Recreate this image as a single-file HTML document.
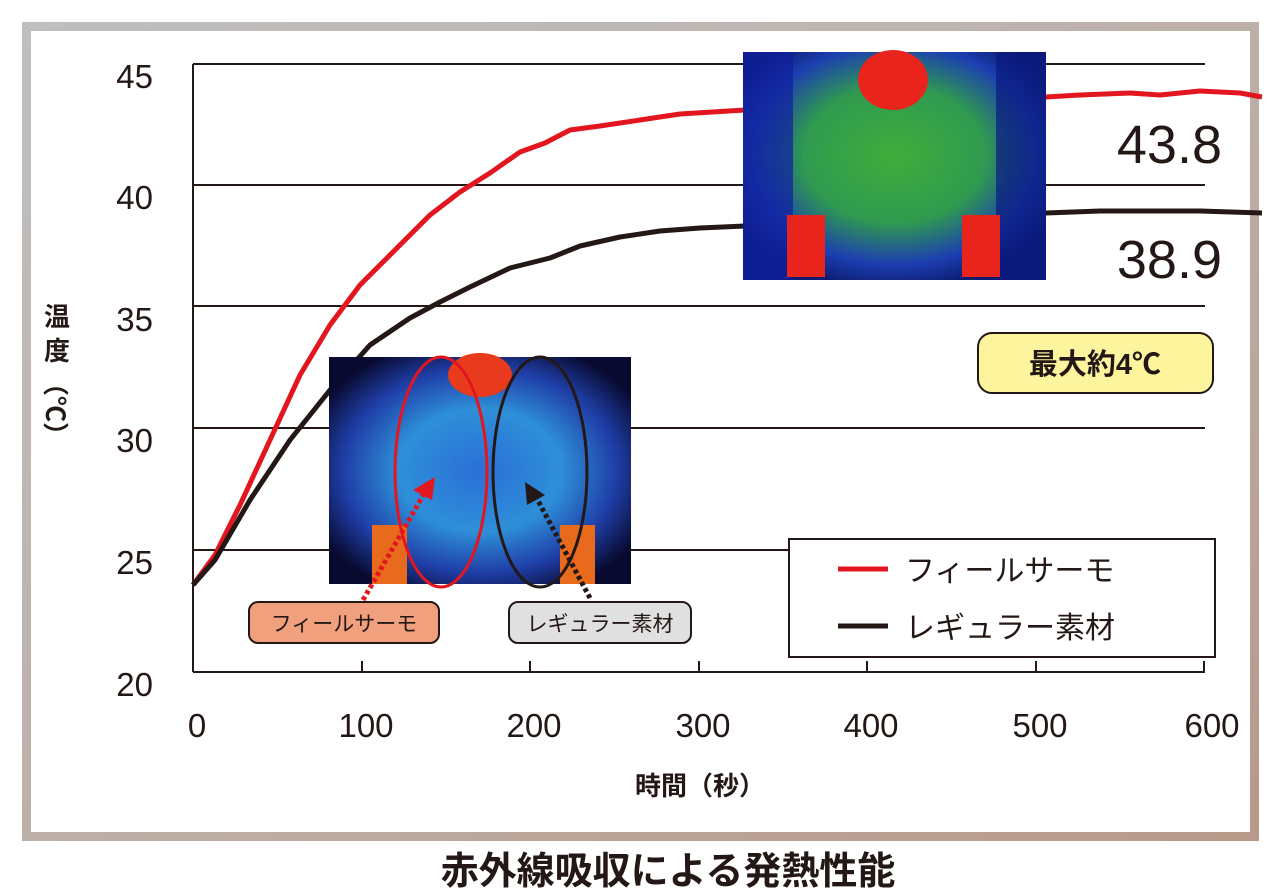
<!DOCTYPE html>
<html><head><meta charset="utf-8"><style>
html,body{margin:0;padding:0;background:#fff}
svg{display:block}
text{font-family:"Liberation Sans","Noto Sans CJK JP",sans-serif;fill:#231815}
</style></head><body>
<svg width="1288" height="892" viewBox="0 0 1288 892" xmlns="http://www.w3.org/2000/svg">
<defs>
<linearGradient id="fr" x1="0" y1="0" x2="1" y2="1">
<stop offset="0" stop-color="#bfbfbf"/><stop offset="0.5" stop-color="#bdb0a8"/><stop offset="1" stop-color="#b8998a"/>
</linearGradient>
<radialGradient id="th1" cx="0.5" cy="0.45" r="0.6">
<stop offset="0" stop-color="#3fae3a"/><stop offset="0.5" stop-color="#2f9a50"/><stop offset="0.8" stop-color="#1c3fb0"/><stop offset="1" stop-color="#0c1a70"/>
</radialGradient>
<radialGradient id="th2" cx="0.5" cy="0.5" r="0.6">
<stop offset="0" stop-color="#2a6fd8"/><stop offset="0.45" stop-color="#2e8fd8"/><stop offset="0.75" stop-color="#1f3fa8"/><stop offset="1" stop-color="#080a30"/>
</radialGradient>
</defs>
<rect x="26.5" y="26.5" width="1228" height="810" fill="none" stroke="url(#fr)" stroke-width="9"/>
<g stroke="#231815" stroke-width="2">
<line x1="193" y1="64" x2="1205" y2="64"/>
<line x1="193" y1="185" x2="1205" y2="185"/>
<line x1="193" y1="306" x2="1205" y2="306"/>
<line x1="193" y1="428" x2="1205" y2="428"/>
<line x1="193" y1="550" x2="1205" y2="550"/>
<line x1="193" y1="672" x2="1205" y2="672"/>
<line x1="193" y1="64" x2="193" y2="672"/>
<line x1="362" y1="672" x2="362" y2="661"/>
<line x1="530" y1="672" x2="530" y2="661"/>
<line x1="699" y1="672" x2="699" y2="661"/>
<line x1="867" y1="672" x2="867" y2="661"/>
<line x1="1036" y1="672" x2="1036" y2="661"/>
<line x1="1204" y1="672" x2="1204" y2="661"/>
</g>
<g font-size="33" text-anchor="end">
<text x="153" y="88">45</text><text x="153" y="209">40</text><text x="153" y="331">35</text>
<text x="153" y="452">30</text><text x="153" y="574">25</text><text x="153" y="696">20</text>
</g>
<g font-size="33" text-anchor="middle">
<text x="197" y="737">0</text><text x="366" y="737">100</text><text x="534" y="737">200</text>
<text x="703" y="737">300</text><text x="871" y="737">400</text><text x="1040" y="737">500</text><text x="1212" y="737">600</text>
</g>
<text x="700" y="795" font-size="26" font-weight="bold" text-anchor="middle">時間（秒）</text>
<text x="57" y="326" font-size="26" font-weight="bold" text-anchor="middle">温</text>
<text x="57" y="360" font-size="26" font-weight="bold" text-anchor="middle">度</text>
<text font-size="26" font-weight="bold" transform="translate(46,370) rotate(90)">（℃）</text>
<path d="M193,585 L215,555 L240,505 L270,440 L300,375 L330,325 L360,285 L400,245 L430,215 L460,192 L490,173 L520,152 L545,143 L570,130 L600,126 L640,120 L680,114 L745,110 L1046,97 L1080,95 L1130,93 L1160,95 L1200,91 L1240,93 L1262,97" fill="none" stroke="#e3161f" stroke-width="5" stroke-linejoin="round"/>
<path d="M193,585 L215,560 L250,500 L290,440 L330,390 L370,345 L410,318 L440,302 L470,287 L510,268 L550,258 L580,246 L620,237 L660,231 L700,228 L745,226 L1046,213 L1100,211 L1200,211 L1262,213" fill="none" stroke="#231815" stroke-width="5" stroke-linejoin="round"/>
<rect x="743" y="52" width="303" height="228" fill="url(#th1)"/>
<rect x="743" y="52" width="50" height="228" fill="#1020a0" opacity="0.7"/>
<rect x="996" y="52" width="50" height="228" fill="#0a1a80" opacity="0.7"/>
<ellipse cx="893" cy="80" rx="35" ry="30" fill="#e8241c"/>
<rect x="787" y="215" width="38" height="62" fill="#e8241c"/>
<rect x="962" y="215" width="38" height="62" fill="#e8241c"/>
<rect x="329" y="357" width="302" height="227" fill="url(#th2)"/>
<ellipse cx="480" cy="375" rx="32" ry="22" fill="#e83a1c"/>
<rect x="372" y="525" width="35" height="59" fill="#e86a1c"/>
<rect x="560" y="525" width="35" height="59" fill="#e86a1c"/>
<ellipse cx="441" cy="472" rx="46" ry="115" fill="none" stroke="#e3161f" stroke-width="3"/>
<ellipse cx="540" cy="472" rx="47" ry="115" fill="none" stroke="#231815" stroke-width="3"/>
<line x1="363" y1="600" x2="425" y2="492" stroke="#e3161f" stroke-width="5" stroke-dasharray="4,3"/>
<polygon points="435,477 413,490 432,500" fill="#e3161f"/>
<line x1="590" y1="598" x2="535" y2="495" stroke="#231815" stroke-width="5" stroke-dasharray="4,3"/>
<polygon points="525,482 527,505 545,495" fill="#231815"/>
<rect x="249" y="602" width="190" height="41" rx="9" fill="#f0a07c" stroke="#231815" stroke-width="2"/>
<text x="344" y="631" font-size="21" text-anchor="middle">フィールサーモ</text>
<rect x="509" y="602" width="182" height="41" rx="9" fill="#e0e0e0" stroke="#231815" stroke-width="2"/>
<text x="600" y="631" font-size="21" text-anchor="middle">レギュラー素材</text>
<text x="1222" y="163" font-size="54" text-anchor="end">43.8</text>
<text x="1222" y="278" font-size="54" text-anchor="end">38.9</text>
<rect x="978" y="333" width="235" height="60" rx="14" fill="#fdf49e" stroke="#231815" stroke-width="2"/>
<text x="1095" y="374" font-size="29" font-weight="bold" text-anchor="middle">最大約4℃</text>
<rect x="789" y="539" width="426" height="118" fill="#fff" stroke="#231815" stroke-width="2"/>
<line x1="838" y1="569" x2="888" y2="569" stroke="#e3161f" stroke-width="5"/>
<line x1="838" y1="626" x2="888" y2="626" stroke="#231815" stroke-width="5"/>
<text x="905" y="581" font-size="30">フィールサーモ</text>
<text x="905" y="638" font-size="30">レギュラー素材</text>
<text x="668" y="884" font-size="38" font-weight="bold" text-anchor="middle">赤外線吸収による発熱性能</text>
</svg>
</body></html>
